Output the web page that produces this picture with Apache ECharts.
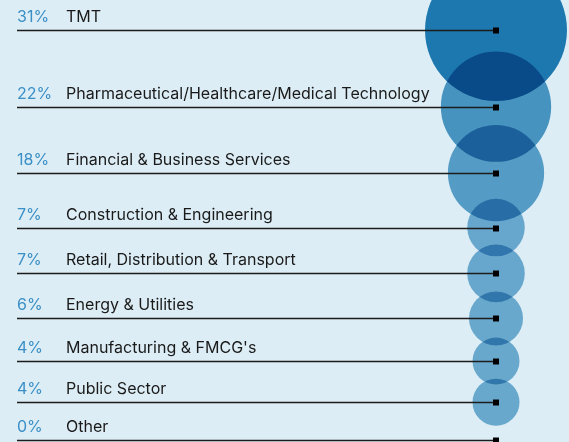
<!DOCTYPE html>
<html>
<head>
<meta charset="utf-8">
<script src="https://cdn.jsdelivr.net/npm/echarts@6/dist/echarts.min.js"></script>
<style>
  html, body { margin: 0; padding: 0; background: #dcedf5; }
  #chart { width: 569px; height: 442px; }
</style>
</head>
<body>
<div id="chart"></div>
<script>
const categories = [
  'TMT',
  'Pharmaceutical/Healthcare/Medical Technology',
  'Financial & Business Services',
  'Construction & Engineering',
  'Retail, Distribution & Transport',
  'Energy & Utilities',
  "Manufacturing & FMCG's",
  'Public Sector',
  'Other'
];
const shares = [31, 22, 18, 7, 7, 6, 4, 4, 0];
const shareLabels = shares.map(v => v + '%');

// each row gets a fixed band plus its share, rows sit in the middle of their band
const ROW_BASE = 22;
let acc = 0;
const rowPos = shares.map(v => {
  const c = acc + (ROW_BASE + v) / 2;
  acc += ROW_BASE + v;
  return c;
});

const positive = shares.filter(v => v > 0);
const lo = Math.min(...positive);
const hi = Math.max(...positive);
const SIZE_MIN = 47, SIZE_MAX = 142;
const LIGHT = '#79b5d6', DARK = '#2081b6';

const rows = shares.map((v, i) => [1, rowPos[i], v, i]);

const chart = echarts.init(document.getElementById('chart'), null, { renderer: 'canvas' });

chart.setOption({
  backgroundColor: '#dcedf5',
  animation: false,
  grid: { left: 17, right: 73, top: 0, bottom: 0 },
  xAxis: { type: 'value', min: 0, max: 1, show: false },
  yAxis: { type: 'value', inverse: true, min: 7.5, max: 287.2, show: false },
  series: [
    {
      type: 'scatter',
      silent: true,
      z: 2,
      blendMode: 'multiply',
      data: rows,
      symbolSize: val => val[2] > 0 ? SIZE_MIN + (val[2] - lo) / (hi - lo) * (SIZE_MAX - SIZE_MIN) : 0,
      itemStyle: {
        opacity: 1,
        color: p => {
          const t = Math.max(0, (p.value[2] - lo) / (hi - lo));
          return echarts.color.lerp(t * t, [LIGHT, DARK]);
        }
      }
    },
    {
      type: 'custom',
      silent: true,
      z: 3,
      data: rows,
      renderItem: (params, api) => {
        const end = api.coord([api.value(0), api.value(1)]);
        const i = api.value(3);
        const left = params.coordSys.x;
        const y = Math.round(end[1]) + 0.5;
        return {
          type: 'group',
          children: [
            {
              type: 'line',
              shape: { x1: left, y1: y, x2: end[0], y2: y },
              style: { stroke: '#1c1c1c', lineWidth: 1.4 }
            },
            {
              type: 'rect',
              shape: { x: end[0] - 3, y: y - 3, width: 6, height: 6 },
              style: { fill: '#000' }
            },
            {
              type: 'text',
              style: {
                x: left, y: y - 13,
                text: shareLabels[i],
                fill: '#3a8fc6',
                font: '16px Inter',
                align: 'left', verticalAlign: 'middle'
              }
            },
            {
              type: 'text',
              style: {
                x: left + 49, y: y - 13,
                text: categories[i],
                fill: '#1a1a1a',
                font: '16px Inter',
                align: 'left', verticalAlign: 'middle'
              }
            }
          ]
        };
      }
    }
  ]
});
</script>
</body>
</html>
